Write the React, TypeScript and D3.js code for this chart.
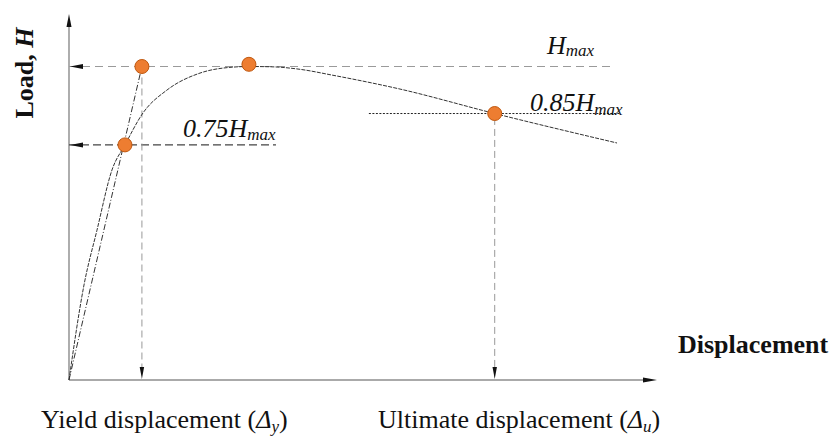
import React from "react";
import * as d3 from "d3";

// Load–displacement envelope (normalised: displacement units, load / Hmax)
const curveDisp = [0, 0.255, 0.476, 0.731, 0.952, 1.259, 1.667, 2.228, 2.789, 3.06, 3.45, 3.93, 4.49, 5.63, 7.24, 9.32];
const curveLoad = [0, 0.303, 0.478, 0.67, 0.75, 0.852, 0.925, 0.979, 0.998, 1.0, 0.999, 0.991, 0.972, 0.928, 0.85, 0.756];

// Key points: yield (0.75Hmax), secant at Hmax, peak, ultimate (0.85Hmax)
const keyDisp = [0.952, 1.24, 3.06, 7.24];
const keyLoad = [0.75, 1.0, 1.007, 0.85];

const yieldDisp = 1.24;
const ultimateDisp = 7.24;
const hmaxEnd = 9.23;
const yieldLineEnd = 3.52;
const ultLineStart = 5.1;
const ultLineEnd = 9.37;
const ultVertTop = 0.871;

const W = 834;
const H = 439;
const serif = "'Liberation Serif', 'Times New Roman', serif";

export default function App() {
  const x = d3.scaleLinear().domain([0, 10]).range([69, 657]);
  const y = d3.scaleLinear().domain([0, 1]).range([380, 66.5]);

  const pts = curveDisp.map((d, i) => [d, curveLoad[i]] as [number, number]);
  const line = d3
    .line<[number, number]>()
    .x((d) => x(d[0]))
    .y((d) => y(d[1]))
    .curve(d3.curveMonotoneX);

  const seg = d3
    .line<[number, number]>()
    .x((d) => x(d[0]))
    .y((d) => y(d[1]));

  const x0 = x(0);
  const y0 = y(0);
  const yTop = 14;
  const xEnd = 657;

  const arrowLeft = (tx: number, ty: number, len = 13, hw = 2.5) =>
    `M${tx},${ty} L${tx + len},${ty - hw} L${tx + len},${ty + hw} Z`;
  const arrowDown = (tx: number, ty: number, len = 12, hw = 2.2) =>
    `M${tx},${ty} L${tx - hw},${ty - len} L${tx + hw},${ty - len} Z`;

  return (
    <svg
      width={W}
      height={H}
      style={{ position: "absolute", left: 0, top: 0, background: "#fff" }}
      fontFamily={serif}
    >
      <rect x={0} y={0} width={W} height={H} fill="#fff" />

      {/* axes */}
      <line x1={x0} y1={y0} x2={x0} y2={yTop + 8} stroke="#777" strokeWidth={1.2} />
      <path d={`M${x0},${yTop} L${x0 - 2.5},${yTop + 13} L${x0 + 2.5},${yTop + 13} Z`} fill="#111" />
      <line x1={x0} y1={y0} x2={xEnd - 8} y2={y0} stroke="#aaa" strokeWidth={2} />
      <path d={`M${xEnd},${y0} L${xEnd - 14},${y0 - 2.5} L${xEnd - 14},${y0 + 2.5} Z`} fill="#111" />

      {/* Hmax line */}
      <path
        d={seg([[0, 1], [hmaxEnd, 1]]) || ""}
        stroke="#9a9a9a"
        strokeWidth={1}
        strokeDasharray="8,5"
        fill="none"
      />
      <path d={arrowLeft(x0 + 1, y(1))} fill="#111" />

      {/* 0.75 Hmax line */}
      <path
        d={seg([[0, 0.75], [yieldLineEnd, 0.75]]) || ""}
        stroke="#444"
        strokeWidth={1.2}
        strokeDasharray="8,4"
        fill="none"
      />
      <path d={arrowLeft(x0 + 1, y(0.75))} fill="#111" />

      {/* 0.85 Hmax dotted line */}
      <path
        d={seg([[ultLineStart, 0.85], [ultLineEnd, 0.85]]) || ""}
        stroke="#222"
        strokeWidth={1}
        strokeDasharray="2,1.5"
        fill="none"
      />

      {/* vertical drop lines */}
      <path
        d={seg([[yieldDisp, 1], [yieldDisp, 0.03]]) || ""}
        stroke="#999"
        strokeWidth={1}
        strokeDasharray="7,4"
        fill="none"
      />
      <path d={arrowDown(x(yieldDisp), y0 - 1)} fill="#111" />
      <path
        d={seg([[ultimateDisp, ultVertTop], [ultimateDisp, 0.03]]) || ""}
        stroke="#999"
        strokeWidth={1}
        strokeDasharray="7,4"
        fill="none"
      />
      <path d={arrowDown(x(ultimateDisp), y0 - 1)} fill="#111" />

      {/* secant line through yield point */}
      <path
        d={seg([[0, 0], [yieldDisp, 1]]) || ""}
        stroke="#333"
        strokeWidth={1}
        strokeDasharray="6,2,1,2"
        fill="none"
      />

      {/* envelope curve */}
      <path d={line(pts) || ""} stroke="#333" strokeWidth={1} strokeDasharray="4,1.2" fill="none" />

      {/* key points */}
      {keyDisp.map((d, i) => (
        <circle key={i} cx={x(d)} cy={y(keyLoad[i])} r={7} fill="#ED7D31" stroke="#C0580F" strokeWidth={1} />
      ))}

      {/* labels */}
      <text x={547} y={54} fontSize={26} fontStyle="italic" fill="#111">
        H<tspan fontSize={17} dy={2}>max</tspan>
      </text>
      <text x={530} y={111} fontSize={26} fontStyle="italic" fill="#111">
        0.85H<tspan fontSize={17} dy={4}>max</tspan>
      </text>
      <text x={183} y={137} fontSize={26} fontStyle="italic" fill="#111">
        0.75H<tspan fontSize={17} dy={3}>max</tspan>
      </text>

      <text
        transform={`translate(33,73) rotate(-90)`}
        textAnchor="middle"
        fontSize={26}
        fontWeight="bold"
        fill="#111"
      >
        Load, <tspan fontStyle="italic">H</tspan>
      </text>

      <text x={678} y={353} fontSize={26} fontWeight="bold" fill="#111">
        Displacement
      </text>

      <text x={41} y={428} fontSize={26} fill="#111">
        Yield displacement (<tspan fontStyle="italic">Δ</tspan>
        <tspan fontSize={17} dy={4} fontStyle="italic">y</tspan>
        <tspan dy={-4}>)</tspan>
      </text>
      <text x={378} y={428} fontSize={26} fill="#111">
        Ultimate displacement (<tspan fontStyle="italic">Δ</tspan>
        <tspan fontSize={17} dy={4} fontStyle="italic">u</tspan>
        <tspan dy={-4}>)</tspan>
      </text>
    </svg>
  );
}
